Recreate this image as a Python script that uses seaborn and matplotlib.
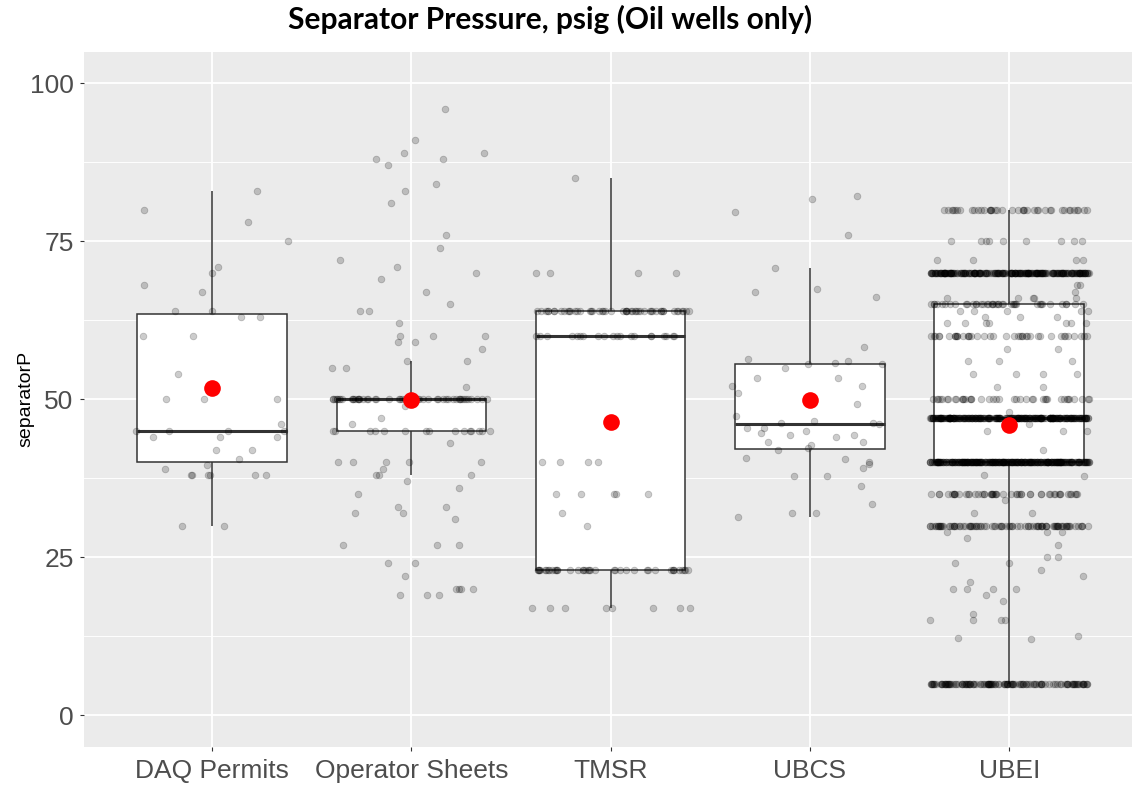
import numpy as np
import pandas as pd
import seaborn as sns
import matplotlib.pyplot as plt
from matplotlib.ticker import MultipleLocator

# values, one list per source
sources = ['DAQ Permits', 'Operator Sheets', 'TMSR', 'UBCS', 'UBEI']

daq = [80, 83, 67, 78, 75, 71, 70, 68, 64, 64, 63, 63, 60, 60, 54, 50, 50, 50,
       46, 45, 45, 45, 45, 44, 44, 44, 42, 42, 40.5, 39.6, 39,
       38, 38, 38, 38, 38, 38, 30, 30]

operator_scatter = [88, 89, 87, 84, 81, 83, 76, 71, 70, 64, 65, 62, 60, 60, 59, 59, 55, 55,
                    96, 91, 88, 89, 74, 72, 69, 67, 64, 60, 58, 56, 56, 52,
                    46, 47, 49,
                    43, 40, 40, 40, 39, 38, 35, 33, 32, 31, 27, 24, 22, 20, 20, 19, 20,
                    40, 40, 38, 38, 37, 36, 33, 32, 27, 27, 24, 20, 19, 19]
operator_bands = [50, 45]
operator_counts = [50, 15]

tmsr_scatter = [85, 70, 70, 70, 70, 40, 40, 40, 40, 35, 35, 35, 35, 35, 32, 30]
tmsr_bands = [64, 60, 23, 17]
tmsr_counts = [50, 20, 40, 8]

ubcs = [31.4, 32, 32, 33.4, 36.3, 37.8, 37.8, 39.1, 39.8, 40,
        40.5, 40.7, 42, 42.2, 42.7, 43.2, 43.2, 44, 44.3, 44.3,
        44.6, 45, 45.4, 45.4, 46, 46.2, 46.2, 46.5, 47.4, 49.2,
        51, 52.1, 52.1, 53.4, 53.4, 55, 55.5, 55.5, 55.7, 56.1,
        56.3, 58.3, 66.1, 67, 67.4, 70.8, 76, 79.7, 81.7, 82.1]

ubei_scatter = [29, 29, 29, 28, 27, 24, 24, 25, 25, 23, 22, 21, 20, 20, 20, 20, 19, 18, 16,
                15, 15, 15, 15, 12.5, 12.2, 12, 32, 32, 34, 37.8, 38,
                42, 45, 45, 45, 46, 48, 52, 52, 54, 54, 54, 54, 56, 56, 56, 58, 58,
                62, 62, 62, 62, 62, 62, 62, 63, 63, 63, 64, 64, 64, 64, 64,
                66, 66, 66, 66, 66, 67, 68, 68, 72, 72, 72, 72,
                75, 75, 75, 75, 75, 75, 75, 75, 75]
ubei_bands = [5, 30, 35, 40, 47, 50, 60, 65, 70, 80]
ubei_counts = [130, 90, 50, 300, 260, 40, 40, 40, 240, 40]

groups = {
    'DAQ Permits': daq,
    'Operator Sheets': operator_scatter + list(np.repeat(operator_bands, operator_counts)),
    'TMSR': tmsr_scatter + list(np.repeat(tmsr_bands, tmsr_counts)),
    'UBCS': ubcs,
    'UBEI': ubei_scatter + list(np.repeat(ubei_bands, ubei_counts)),
}
df = pd.DataFrame([(k, v) for k in sources for v in groups[k]],
                  columns=['source', 'separatorP'])

plt.rcParams['font.family'] = ['Liberation Sans', 'DejaVu Sans']

fig = plt.figure(figsize=(11.32, 7.87), dpi=100)
ax = fig.add_axes([84 / 1132, 40.3 / 787, 1048 / 1132, 695 / 787])
ax.set_facecolor('#EBEBEB')

sns.boxplot(data=df, x='source', y='separatorP', order=sources, ax=ax,
            width=0.75, whis=1.5, showfliers=False, color='white',
            linecolor='#333333', linewidth=1.1,
            medianprops=dict(linewidth=2.2), capprops=dict(linewidth=0))

np.random.seed(7)
sns.stripplot(data=df, x='source', y='separatorP', order=sources, ax=ax,
              jitter=0.4, color='black', alpha=0.2, size=4.8,
              linewidth=0.6, edgecolor='black')

sns.pointplot(data=df, x='source', y='separatorP', order=sources, ax=ax,
              estimator='mean', errorbar=None, color='red', markers='o',
              linestyle='none', markersize=12, markeredgewidth=0, zorder=10)

ax.set_xlim(-0.642, 4.616)
ax.set_ylim(-5, 105)
ax.yaxis.set_major_locator(MultipleLocator(25))
ax.yaxis.set_minor_locator(MultipleLocator(12.5))
ax.set_axisbelow(True)
ax.grid(True, which='major', color='white', linewidth=1.3)
ax.grid(True, which='minor', axis='y', color='white', linewidth=0.65)
for s in ax.spines.values():
    s.set_visible(False)
ax.tick_params(axis='both', which='major', labelsize=19, labelcolor='#4D4D4D',
               color='#333333', length=3, width=0.8)
ax.tick_params(axis='x', pad=5.5)
ax.tick_params(axis='y', pad=4.5)
ax.tick_params(which='minor', length=0)
ax.set_xlabel('')
ax.set_ylabel('')

fig.text(26 / 1132, 1 - 399 / 787, 'separatorP', rotation=90, fontsize=14,
         ha='center', va='center', color='black')
fig.text(550.5 / 1132, 1 - 29.3 / 787, 'Separator Pressure, psig (Oil wells only)',
         fontsize=21.5, fontweight='bold', family=['Lato', 'DejaVu Sans'],
         ha='center', va='baseline')

fig.savefig('out.png', dpi=100)
